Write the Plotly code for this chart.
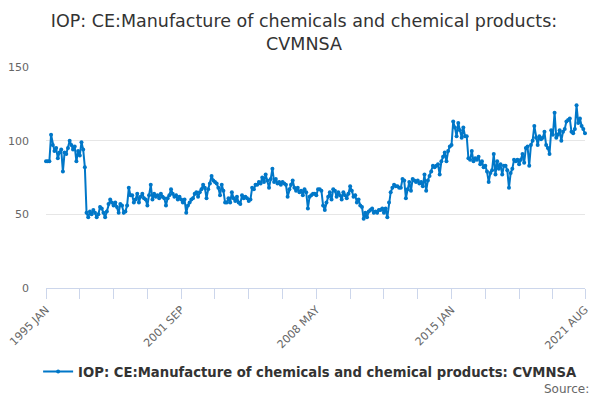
import plotly.graph_objects as go

# monthly index values, one list per year
months = ["JAN", "FEB", "MAR", "APR", "MAY", "JUN",
          "JUL", "AUG", "SEP", "OCT", "NOV", "DEC"]
years = list(range(1995, 2022))

v1995 = [86, 86, 86, 104, 97, 93, 95, 88, 92, 94, 79, 92]
v1996 = [91, 95, 100, 97, 94, 96, 86, 93, 90, 99, 94, 82]
v1997 = [51, 48, 52, 50, 53, 51, 48, 50, 55, 54, 51, 48]
v1998 = [52, 57, 60, 58, 56, 58, 55, 51, 57, 56, 51, 52]
v1999 = [56, 68, 63, 63, 58, 60, 64, 58, 62, 64, 61, 60]
v2000 = [56, 63, 70, 60, 64, 62, 63, 61, 64, 62, 61, 56]
v2001 = [61, 63, 67, 64, 62, 63, 60, 62, 60, 58, 60, 51]
v2002 = [56, 58, 60, 61, 64, 65, 62, 65, 67, 70, 68, 61]
v2003 = [67, 71, 76, 73, 72, 71, 68, 63, 70, 66, 58, 58]
v2004 = [61, 58, 65, 61, 59, 62, 58, 57, 63, 61, 62, 61]
v2005 = [59, 60, 68, 67, 70, 70, 72, 71, 75, 72, 77, 73]
v2006 = [68, 74, 81, 72, 74, 71, 72, 70, 72, 71, 70, 62]
v2007 = [67, 70, 73, 68, 66, 68, 65, 66, 63, 67, 65, 54]
v2008 = [62, 63, 64, 64, 63, 67, 67, 66, 56, 53, 58, 62]
v2009 = [65, 60, 67, 66, 62, 65, 63, 60, 65, 63, 61, 64]
v2010 = [69, 66, 62, 63, 58, 60, 56, 55, 47, 51, 48, 52]
v2011 = [53, 54, 51, 52, 51, 53, 53, 54, 51, 54, 48, 58]
v2012 = [65, 68, 70, 69, 69, 68, 68, 74, 73, 61, 67, 72]
v2013 = [66, 74, 73, 72, 73, 71, 72, 69, 77, 66, 73, 76]
v2014 = [79, 83, 82, 83, 84, 77, 86, 89, 92, 86, 93, 96]
v2015 = [97, 113, 109, 103, 112, 107, 102, 109, 103, 103, 88, 87]
v2016 = [93, 86, 88, 87, 89, 84, 86, 82, 83, 79, 72, 78]
v2017 = [80, 91, 77, 86, 81, 84, 77, 83, 83, 80, 68, 78]
v2018 = [81, 87, 86, 87, 84, 87, 91, 85, 95, 96, 83, 97]
v2019 = [100, 110, 102, 97, 103, 101, 102, 106, 97, 95, 91, 107]
v2020 = [104, 119, 102, 104, 107, 100, 106, 108, 113, 114, 115, 106]
v2021 = [105, 108, 124, 112, 115, 110, 108, 105]

yearly = [v1995, v1996, v1997, v1998, v1999, v2000, v2001, v2002, v2003,
          v2004, v2005, v2006, v2007, v2008, v2009, v2010, v2011, v2012,
          v2013, v2014, v2015, v2016, v2017, v2018, v2019, v2020, v2021]

labels = []
values = []
for yr, vals in zip(years, yearly):
    for m, v in zip(months, vals):
        labels.append(f"{yr} {m}")
        values.append(v)

idx = list(range(len(values)))

# tick every 20 months, labels on every 4th plus the last month
tick_idx = list(range(0, len(values), 20)) + [len(values) - 1]
labelled = [0, 80, 160, 240, len(values) - 1]
tick_text = [labels[i] if i in labelled else "" for i in tick_idx]

series_name = "IOP: CE:Manufacture of chemicals and chemical products: CVMNSA"
line_col = "#0077c8"

fig = go.Figure()
fig.add_trace(go.Scatter(
    x=idx, y=values,
    mode="lines+markers",
    name=series_name,
    line=dict(color=line_col, width=2),
    marker=dict(size=4, color=line_col),
    text=labels,
    hovertemplate="%{text}: %{y}<extra></extra>",
    cliponaxis=False,
))

# the page body has an 8px margin, so the figure is a bit smaller than the window
fig.update_layout(
    width=592, height=392,
    paper_bgcolor="white", plot_bgcolor="white",
    margin=dict(l=38, r=15, t=59, b=109),
    font=dict(family="DejaVu Sans", color="#666666", size=11),
    title=dict(
        text="IOP: CE:Manufacture of chemicals and chemical products:<br>CVMNSA",
        x=0.5, xanchor="center", y=0.952, yanchor="middle",
        font=dict(size=17.5, color="#333333", family="DejaVu Sans"),
    ),
    showlegend=True,
    legend=dict(
        orientation="h", x=0.49, xanchor="center", y=-0.38, yanchor="middle",
        font=dict(size=13.2, color="#333333", family="DejaVu Sans", weight="bold"),
    ),
    annotations=[dict(
        text="Source:", xref="paper", yref="paper",
        x=1.012, xanchor="right", y=-0.455, yanchor="middle",
        showarrow=False, font=dict(size=12, color="#666666"),
    )],
)

fig.update_xaxes(
    range=[0, len(values) - 1],
    tickvals=tick_idx, ticktext=tick_text,
    tickangle=-45, automargin=False, ticklabeloverflow="allow",
    ticks="outside", ticklen=10, tickcolor="#ccd6eb",
    showline=True, linecolor="#ccd6eb", linewidth=1,
    showgrid=False, zeroline=False,
    tickfont=dict(size=11, color="#666666"),
)
fig.update_yaxes(
    range=[0, 150], tickvals=[0, 50, 100, 150],
    showgrid=True, gridcolor="#e6e6e6", zeroline=False,
    ticks="", ticklabelstandoff=16, automargin=False,
    tickfont=dict(size=11, color="#666666"),
)

fig.write_html("out.html")
